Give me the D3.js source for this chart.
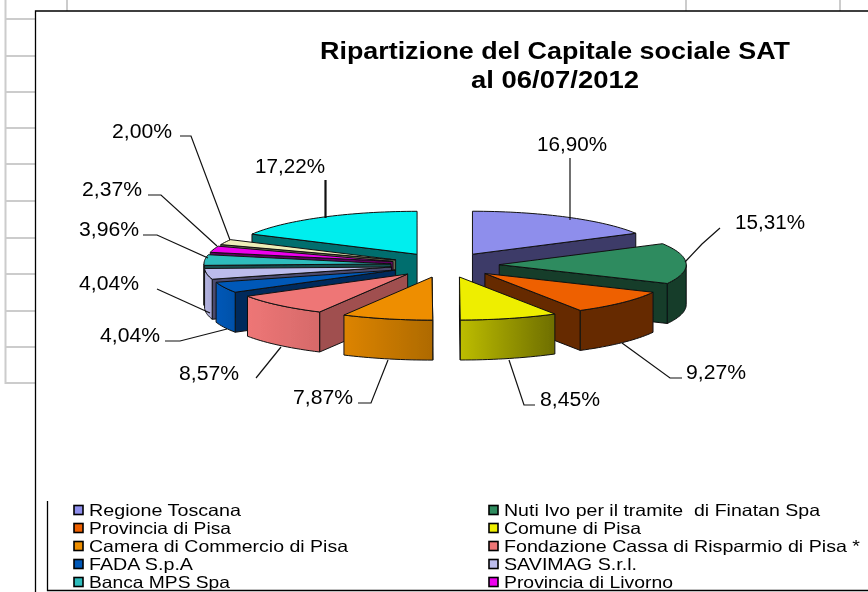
<!DOCTYPE html>
<html>
<head>
<meta charset="utf-8">
<script src="https://cdn.jsdelivr.net/npm/d3@7/dist/d3.min.js"></script>
<style>
html,body{margin:0;padding:0;background:#fff;overflow:hidden}
text{font-family:"Liberation Sans",Arial,sans-serif;fill:#000;white-space:pre}
</style>
</head>
<body>
<svg id="c" width="868" height="592"></svg>
<script>
// --- data ---
const titleLines = ["Ripartizione del Capitale sociale SAT", "al 06/07/2012"];
const categories = ["Regione Toscana","Nuti Ivo per il tramite  di Finatan Spa","Provincia di Pisa","Comune di Pisa","Camera di Commercio di Pisa","Fondazione Cassa di Risparmio di Pisa *","FADA S.p.A","SAVIMAG S.r.l.","Banca MPS Spa","Provincia di Livorno","Altri soci","Altri azionisti"];
const values = [16.90,15.31,9.27,8.45,7.87,8.57,4.04,4.04,3.96,2.37,2.00,17.22];
const legendCount = 10; // the last two legend rows are cropped off in the picture

// --- styles ---
const topColors  = ["#8E8EEC","#2E8B5E","#EE6000","#EEEE00","#EE8E00","#EE7676","#0058B8","#BCBCEC","#2EBCBC","#EE00EE","#EEEEB8","#00EEEE"];
const wallColors = ["#3E3A68","#123C2B","#662A00","#6E6E00","#AE6A00","#A05050","#002C5C","#4C4C70","#145050","#600060","#6A6A50","#006E6E"];
const outerLeft  = ["#3E3A68","#123C2B","#662A00","#BDBD00","#DD8400","#EE7676","#0058B8","#B4B4E0","#2EBCBC","#600060","#6A6A50","#006E6E"];
const outerRight = ["#3E3A68","#123C2B","#662A00","#6E6E00","#AE6A00","#D66A6A","#0050A8","#A8A8D4","#145050","#600060","#6A6A50","#006E6E"];

// --- layout ---
const cx = 445, cy = 265, rx = 187, ry = 43, depth = 40, explode = 0.29;
const labelPos = [[537,151],[735,229],[686,379],[540,406],[293,404],[179,380],[100,342],[79,290],[79,236],[82,196],[112,138],[255,173]];
const labelW = 70, labelWShort = 60;
const leaders = [
 [[570,158],[570,220]],
 [[720,228],[702,244],[685,262]],
 [[622,343],[670,378],[682,378]],
 [[509,360],[524,405],[535,405]],
 [[388,360],[371,403],[358,403]],
 [[281,347],[256,378]],
 [[227,329],[180,341],[165,341]],
 [[157,289],[210,313]],
 [[143,235],[157,235],[208,258]],
 [[148,195],[161,195],[217,246]],
 [[180,136],[191,136],[230,240]],
 [[325.5,180],[325.5,218]]
];
const leaderWidth = [1.2,1.2,1.2,1.2,1.2,1.2,1.2,1.2,1.2,1.2,1.2,2.2];
const legendWidths = [152,316,142,137,259,356,104,133,141,169];
const titleWidths = [470,168];

const svg = d3.select("#c");
const defs = svg.append("defs");
defs.append("filter").attr("id","soft").attr("x","-5%").attr("y","-5%").attr("width","110%").attr("height","110%")
  .append("feGaussianBlur").attr("stdDeviation",0.4);
defs.append("filter").attr("id","softT").attr("x","-5%").attr("y","-20%").attr("width","110%").attr("height","140%")
  .append("feGaussianBlur").attr("stdDeviation",0.3);

// spreadsheet behind the chart
const grid = svg.append("g").attr("stroke","#CCCCCC").attr("stroke-width",2).attr("fill","none");
const rowY = [19,56,92,128,164,201,238,274,311,347,383];
grid.append("path").attr("d",d3.line()([[5.5,0],[5.5,384]]));
rowY.forEach(y=>grid.append("path").attr("d",d3.line()([[5,y],[35,y]])));
[67,686,840].forEach(x=>grid.append("path").attr("d",d3.line()([[x,0],[x,11]])));

// chart frame
const frame = svg.append("g").attr("stroke","#000").attr("fill","none").attr("stroke-width",1.3);
frame.append("path").attr("d",d3.line()([[35.5,592],[35.5,11],[868,11]]));
frame.append("path").attr("d",d3.line()([[47.5,501],[47.5,590.5],[868,590.5]]));

// title
const titleG = svg.append("g").attr("filter","url(#softT)");
titleG.selectAll("text").data(titleLines).join("text")
  .attr("x",555).attr("y",(d,i)=>59+i*28.5).attr("text-anchor","middle")
  .attr("font-size",24).attr("font-weight","bold")
  .attr("textLength",(d,i)=>titleWidths[i]).attr("lengthAdjust","spacingAndGlyphs")
  .text(d=>d);

// pie
const arcs = d3.pie().sort(null).value(d=>d).startAngle(0).endAngle(2*Math.PI)(values);
const xs = a=>rx*Math.sin(a), ys = a=>-ry*Math.cos(a);
const line = d3.line();
const items = arcs.map((d,i)=>{
  const mid=(d.startAngle+d.endAngle)/2;
  return {i,a0:d.startAngle,a1:d.endAngle,mid,ox:cx+explode*xs(mid),oy:cy+explode*ys(mid)};
}).sort((p,q)=>Math.cos(q.mid)-Math.cos(p.mid));

const pie = svg.append("g").attr("filter","url(#soft)").attr("stroke","#111").attr("stroke-width",1).attr("stroke-linejoin","round");
const arcPts = (s,a,b,dy)=>{
  const n=Math.max(2,Math.ceil((b-a)/0.03));
  return d3.range(n+1).map(k=>{const t=a+(b-a)*k/n;return [s.ox+xs(t),s.oy+ys(t)+dy];});
};
items.forEach(s=>{
  const g=pie.append("g");
  // radial wall that faces the viewer
  const wa = s.mid<Math.PI ? s.a1 : s.a0;
  const edge=[s.ox+xs(wa),s.oy+ys(wa)];
  g.append("path").attr("fill",wallColors[s.i])
    .attr("d",line([[s.ox,s.oy],edge,[edge[0],edge[1]+depth],[s.ox,s.oy+depth]])+"Z");
  // outer rounded wall, front half only
  const b0=Math.max(s.a0,Math.PI/2), b1=Math.min(s.a1,3*Math.PI/2);
  if(b1>b0){
    const gid="g"+s.i, topArc=arcPts(s,b0,b1,0), botArc=arcPts(s,b0,b1,depth).reverse();
    const xe=d3.extent(topArc,p=>p[0]);
    const gr=defs.append("linearGradient").attr("id",gid).attr("gradientUnits","userSpaceOnUse")
      .attr("x1",xe[0]).attr("x2",xe[1]).attr("y1",0).attr("y2",0);
    gr.append("stop").attr("offset",0).attr("stop-color",outerLeft[s.i]);
    gr.append("stop").attr("offset",1).attr("stop-color",outerRight[s.i]);
    g.append("path").attr("fill",`url(#${gid})`).attr("d",line(topArc.concat(botArc))+"Z");
  }
  // top face
  g.append("path").attr("fill",topColors[s.i])
    .attr("d",line([[s.ox,s.oy]].concat(arcPts(s,s.a0,s.a1,0)))+"Z");
});

// leader lines
svg.append("g").attr("fill","none").attr("stroke","#111").selectAll("path").data(leaders).join("path")
  .attr("stroke-width",(d,i)=>leaderWidth[i]).attr("d",d=>line(d));

// percentage labels
const fmt=v=>v.toFixed(2).replace(".",",")+"%";
svg.append("g").attr("filter","url(#softT)").selectAll("text").data(values).join("text")
  .attr("x",(d,i)=>labelPos[i][0]).attr("y",(d,i)=>labelPos[i][1])
  .attr("font-size",20.5)
  .attr("textLength",d=>d>=10?labelW:labelWShort).attr("lengthAdjust","spacingAndGlyphs")
  .text(fmt);

// legend
const legend = svg.append("g").selectAll("g").data(categories.slice(0,legendCount)).join("g")
  .attr("transform",(d,i)=>`translate(${i%2?489:74},${510+Math.floor(i/2)*18})`);
legend.append("rect").attr("x",0).attr("y",-4.5).attr("width",9).attr("height",9)
  .attr("fill",(d,i)=>topColors[i]).attr("stroke","#000").attr("stroke-width",1.6);
legend.append("text").attr("x",15).attr("y",6).attr("font-size",16.5).attr("filter","url(#softT)")
  .attr("textLength",(d,i)=>legendWidths[i]).attr("lengthAdjust","spacingAndGlyphs").text(d=>d);
</script>
</body>
</html>
